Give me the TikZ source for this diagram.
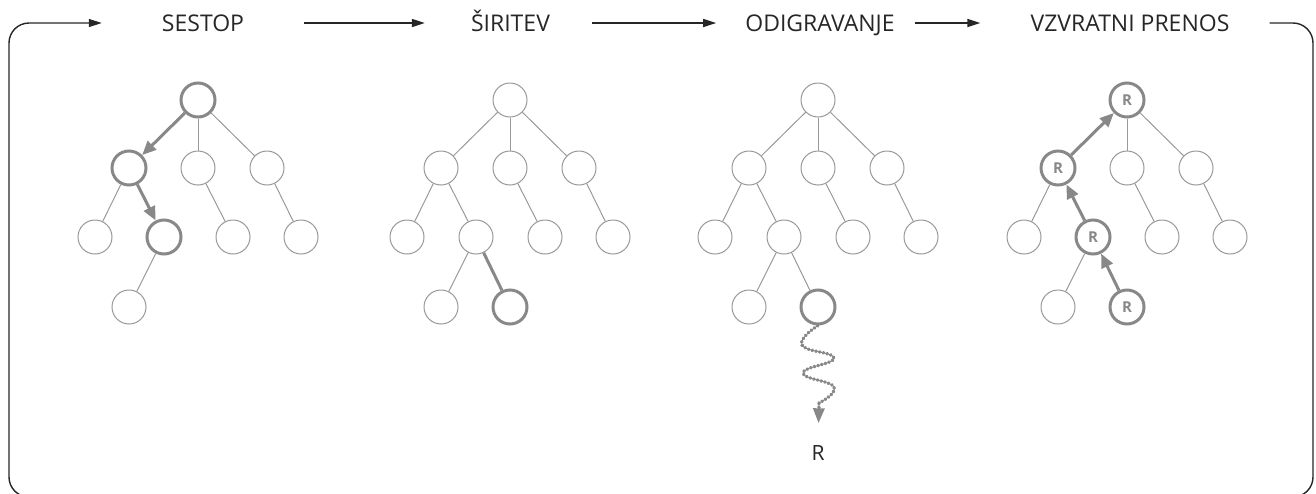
\documentclass[tikz,border=0pt]{standalone}
\usepackage{fontspec}
\setmainfont{Open Sans}
\usetikzlibrary{arrows.meta}
\definecolor{ink}{HTML}{262626}
\definecolor{thin}{HTML}{999999}
\definecolor{bold}{HTML}{888888}

\begin{document}
\begin{tikzpicture}[x=1pt,y=-1pt,
  stage/.style={font=\fontsize{23}{27}\selectfont, text=ink, inner sep=0pt, text height=16.5pt, text depth=0pt},
  flow/.style={draw=ink, line width=1.4pt, -{Triangle[length=13pt,width=8pt]}},
  frame/.style={draw=ink, line width=1.4pt, rounded corners=20pt},
  nd/.style={circle, draw=thin, line width=1pt, minimum size=34pt, inner sep=0pt, fill=white},
  hot/.style={nd, draw=bold, line width=3pt},
  tie/.style={draw=thin, line width=1pt},
  hotline/.style={draw=bold, line width=3pt},
  hotarrow/.style={hotline, -{Triangle[length=14pt,width=12pt]}},
  reward/.style={font=\fontsize{15}{17}\selectfont\bfseries, text=bold},
  wave/.style={draw=bold, line width=3.2pt, line cap=round, dash pattern=on 1pt off 2.8pt},
]
\useasboundingbox (0,0) rectangle (1316,493);

% stage titles
\node[stage] (h1) at (203,23) {SESTOP};
\node[stage] (h2) at (510.5,23) {ŠIRITEV};
\node[stage] (h3) at (820,23) {ODIGRAVANJE};
\node[stage] (h4) at (1130,23) {VZVRATNI PRENOS};

% cycle arrows
\draw[flow] ([xshift=60pt]h1.east) -- ([xshift=-46pt]h2.west);
\draw[flow] ([xshift=42pt]h2.east) -- ([xshift=-29pt]h3.west);
\draw[flow] ([xshift=20pt]h3.east) -- ([xshift=-50pt]h4.west);
\draw[frame, -{Triangle[length=13pt,width=8pt]}]
  ([xshift=40pt]h4.east) -- (1313,23) -- (1313,497) -- (9,497) -- (9,23)
  -- ([xshift=-60pt]h1.west);

% selection
\begin{scope}[xshift=198pt]
  \node[hot] (p1r) at (0,100) {};
  \node[hot] (p1a) at (-69,168) {};
  \node[nd] (p1b) at (0,168) {};
  \node[nd] (p1c) at (69,168) {};
  \node[nd] (p1aa) at (-103,237) {};
  \node[hot] (p1ab) at (-34,237) {};
  \node[nd] (p1ba) at (35,237) {};
  \node[nd] (p1ca) at (103,237) {};
  \node[nd] (p1aba) at (-69,307) {};
  \draw[hotarrow] (p1r) -- (p1a);
  \draw[hotarrow] (p1a) -- (p1ab);
  \draw[tie] (p1r) -- (p1b);
  \draw[tie] (p1r) -- (p1c);
  \draw[tie] (p1a) -- (p1aa);
  \draw[tie] (p1b) -- (p1ba);
  \draw[tie] (p1c) -- (p1ca);
  \draw[tie] (p1ab) -- (p1aba);
\end{scope}

% expansion
\begin{scope}[xshift=510pt]
  \node[nd] (p2r) at (0,100) {};
  \node[nd] (p2a) at (-69,168) {};
  \node[nd] (p2b) at (0,168) {};
  \node[nd] (p2c) at (69,168) {};
  \node[nd] (p2aa) at (-103,237) {};
  \node[nd] (p2ab) at (-34,237) {};
  \node[nd] (p2ba) at (35,237) {};
  \node[nd] (p2ca) at (103,237) {};
  \node[nd] (p2aba) at (-69,307) {};
  \node[hot] (p2abb) at (0,307) {};
  \draw[tie] (p2r) -- (p2a);
  \draw[tie] (p2r) -- (p2b);
  \draw[tie] (p2r) -- (p2c);
  \draw[tie] (p2a) -- (p2aa);
  \draw[tie] (p2a) -- (p2ab);
  \draw[tie] (p2b) -- (p2ba);
  \draw[tie] (p2c) -- (p2ca);
  \draw[tie] (p2ab) -- (p2aba);
  \draw[hotline] (p2ab) -- (p2abb);
\end{scope}

% simulation
\begin{scope}[xshift=818pt]
  \node[nd] (p3r) at (0,100) {};
  \node[nd] (p3a) at (-69,168) {};
  \node[nd] (p3b) at (0,168) {};
  \node[nd] (p3c) at (69,168) {};
  \node[nd] (p3aa) at (-103,237) {};
  \node[nd] (p3ab) at (-34,237) {};
  \node[nd] (p3ba) at (35,237) {};
  \node[nd] (p3ca) at (103,237) {};
  \node[nd] (p3aba) at (-69,307) {};
  \node[hot] (p3abb) at (0,307) {};
  \draw[tie] (p3r) -- (p3a);
  \draw[tie] (p3r) -- (p3b);
  \draw[tie] (p3r) -- (p3c);
  \draw[tie] (p3a) -- (p3aa);
  \draw[tie] (p3a) -- (p3ab);
  \draw[tie] (p3b) -- (p3ba);
  \draw[tie] (p3c) -- (p3ca);
  \draw[tie] (p3ab) -- (p3aba);
  \draw[tie] (p3ab) -- (p3abb);
  \node[text=ink, font=\fontsize{21}{25}\selectfont, inner sep=0pt, text height=15pt, text depth=0pt] (rr) at (0,453) {R};
  \coordinate (w1) at (-16,345);
  \coordinate (w2) at (16,358);
  \coordinate (w3) at (-15,373);
  \coordinate (w4) at (16,387);
  \coordinate (w5) at (1,403);
  \draw[wave] plot[smooth, tension=0.8] coordinates {(p3abb.south) (w1) (w2) (w3) (w4) (w5)};
  \draw[wave, -{Triangle[length=15pt,width=11pt]}, shorten >=22pt] (w5) -- (rr.north);
\end{scope}

% backpropagation
\begin{scope}[xshift=1127pt]
  \node[hot, reward] (p4r) at (0,100) {R};
  \node[hot, reward] (p4a) at (-69,168) {R};
  \node[nd] (p4b) at (0,168) {};
  \node[nd] (p4c) at (69,168) {};
  \node[nd] (p4aa) at (-103,237) {};
  \node[hot, reward] (p4ab) at (-34,237) {R};
  \node[nd] (p4ba) at (35,237) {};
  \node[nd] (p4ca) at (103,237) {};
  \node[nd] (p4aba) at (-69,307) {};
  \node[hot, reward] (p4abb) at (0,307) {R};
  \draw[hotarrow] (p4abb) -- (p4ab);
  \draw[hotarrow] (p4ab) -- (p4a);
  \draw[hotarrow] (p4a) -- (p4r);
  \draw[tie] (p4r) -- (p4b);
  \draw[tie] (p4r) -- (p4c);
  \draw[tie] (p4a) -- (p4aa);
  \draw[tie] (p4b) -- (p4ba);
  \draw[tie] (p4c) -- (p4ca);
  \draw[tie] (p4ab) -- (p4aba);
\end{scope}
\end{tikzpicture}
\end{document}
